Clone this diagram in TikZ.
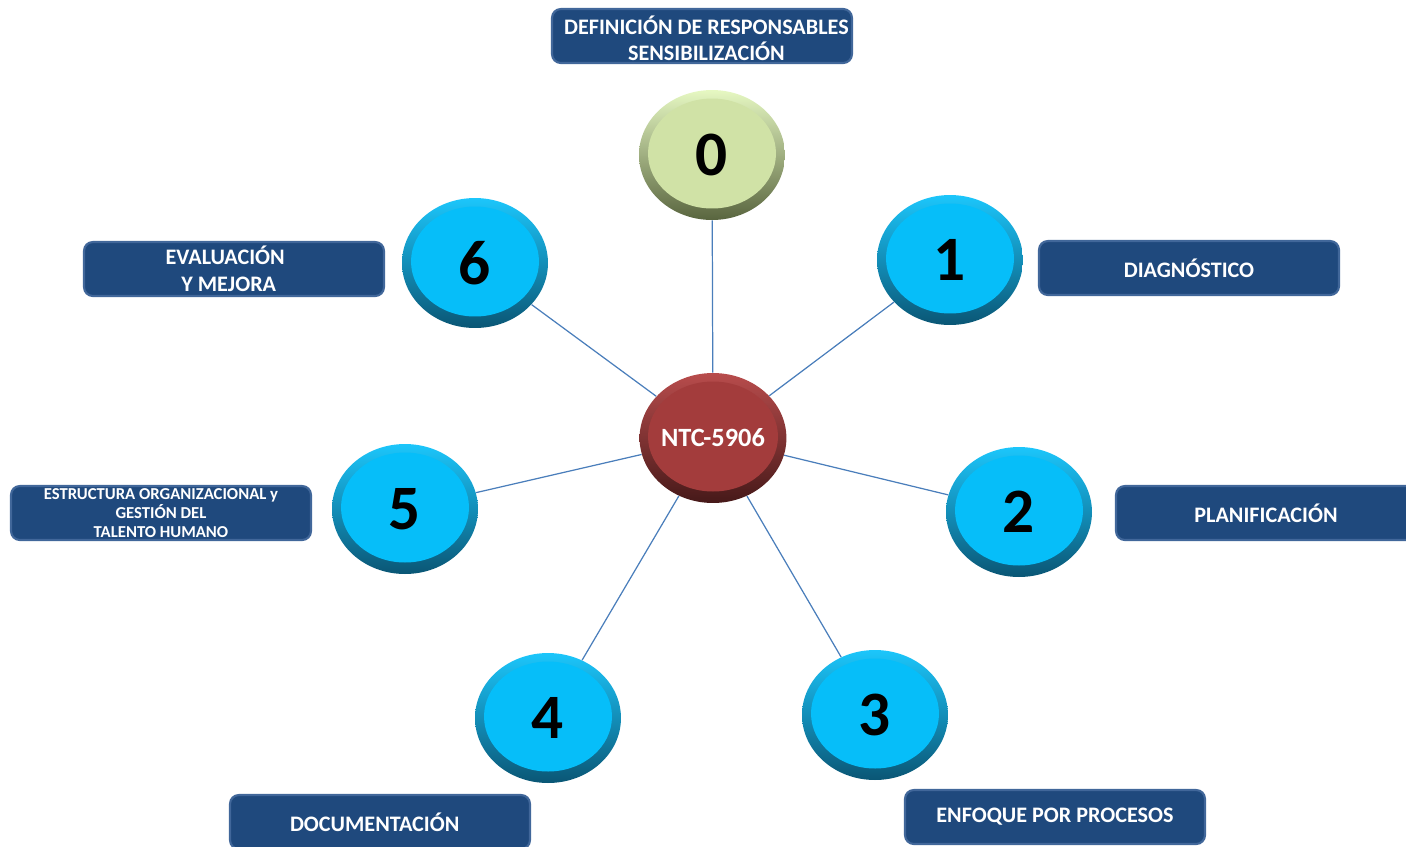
\documentclass[tikz,border=0pt]{standalone}
\usepackage{fontspec}
\setmainfont{Carlito}
\usetikzlibrary{shapes.geometric}

\definecolor{cajaazul}{HTML}{1F497D}
\definecolor{cajaborde}{HTML}{41679A}
\definecolor{enlacecol}{HTML}{4A7EBB}
\definecolor{azulin}{HTML}{06BEF9}
\definecolor{azulA}{HTML}{1CC6FB}
\definecolor{azulB}{HTML}{0A5675}
\definecolor{verdein}{HTML}{D0E2A6}
\definecolor{verdeA}{HTML}{E6F8C2}
\definecolor{verdeB}{HTML}{59653F}
\definecolor{rojoin}{HTML}{A33C3C}
\definecolor{rojoA}{HTML}{B84C4C}
\definecolor{rojoB}{HTML}{461919}

\begin{document}
\begin{tikzpicture}[x=0.02cm,y=-0.02cm,
    etiqueta/.style={draw=cajaborde,line width=1.2pt,fill=cajaazul,rounded corners=5pt,
      minimum width=6cm,minimum height=1.08cm,inner sep=0pt,text=white,align=center,
      font=\fontsize{12.6}{14.5}\selectfont\bfseries},
    paso/.style={ellipse,minimum width=2.92cm,minimum height=2.6cm,inner sep=0pt,
      shading=axis,shading angle=45,font=\fontsize{36}{38}\selectfont\bfseries},
    pasoazul/.style={paso,top color=azulA,bottom color=azulB,
      path picture={\fill[azulin] ([yshift=0.03cm]path picture bounding box.center) ellipse (1.28cm and 1.1cm);}},
    pasoverde/.style={paso,top color=verdeA,bottom color=verdeB,
      path picture={\fill[verdein] ([yshift=0.03cm]path picture bounding box.center) ellipse (1.28cm and 1.1cm);}},
    pasorojo/.style={paso,top color=rojoA,bottom color=rojoB,text=white,
      font=\fontsize{15}{17}\selectfont\bfseries,
      path picture={\fill[rojoin] ([yshift=0.03cm]path picture bounding box.center) ellipse (1.3cm and 1.1cm);}},
    enlace/.style={draw=enlacecol,line width=0.7pt}]

  \useasboundingbox (0,0) rectangle (1406,846);

  % centro
  \node[pasorojo] (ntc) at (713,438) {NTC-5906};

  % pasos
  \node[pasoverde] (circ0) at (712,155) {0};
  \foreach \n/\x/\y in {1/950/260, 2/1019/512, 3/875/715, 4/548/718, 5/405/509, 6/475/263}
    \node[pasoazul] (circ\n) at (\x,\y) {\n};

  % enlaces
  \foreach \n in {0,...,6}
    \draw[enlace] (ntc) -- (circ\n);

  % etiquetas
  \node[etiqueta] (lab0) at (702,36) {\rule{0pt}{13pt}\hspace*{5pt}DEFINICIÓN DE RESPONSABLES\\ \hspace*{5pt}SENSIBILIZACIÓN};
  \node[etiqueta] (lab1) at (1189,268) {DIAGNÓSTICO};
  \node[etiqueta] (lab2) at (1266,513) {PLANIFICACIÓN};
  \node[etiqueta] (lab3) at (1055,817) {ENFOQUE POR PROCESOS};
  \node[etiqueta] (lab4) at (380,822) {\hspace*{-6pt}DOCUMENTACIÓN};
  \node[etiqueta,font=\fontsize{9.5}{11}\selectfont\bfseries] (lab5) at (161,513)
    {ESTRUCTURA ORGANIZACIONAL y\\ GESTIÓN DEL\\ TALENTO HUMANO};
  \node[etiqueta,font=\fontsize{12.6}{15.5}\selectfont\bfseries] (lab6) at (234,269)
    {EVALUACIÓN\hspace*{10pt}\\ Y MEJORA\hspace*{6pt}};
\end{tikzpicture}
\end{document}
